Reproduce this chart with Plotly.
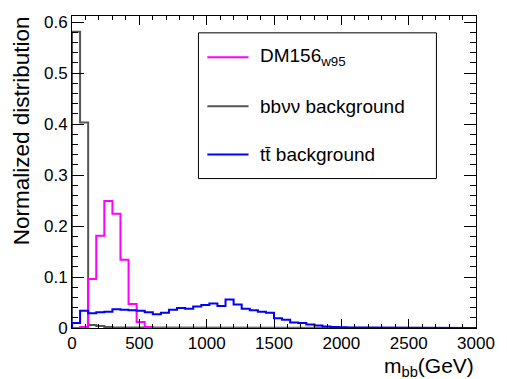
import numpy as np
import plotly.graph_objects as go

# m_bb histograms: 50 bins of 60 GeV between 0 and 3000 GeV
bin_edges = np.arange(0, 3001, 60)

dm156_w95 = [
    0.0, 0.002, 0.096, 0.181, 0.249, 0.224, 0.134, 0.047, 0.012, 0.002,
    0.0, 0.0, 0.0, 0.0, 0.0, 0.0, 0.0, 0.0, 0.0, 0.0,
    0.0, 0.0, 0.0, 0.0, 0.0, 0.0, 0.0, 0.0, 0.0, 0.0,
    0.0, 0.0, 0.0, 0.0, 0.0, 0.0, 0.0, 0.0, 0.0, 0.0,
    0.0, 0.0, 0.0, 0.0, 0.0, 0.0, 0.0, 0.0, 0.0, 0.0,
]

bbvv_bkg = [
    0.581, 0.403, 0.006, 0.004, 0.002, 0.001, 0.001, 0.0005, 0.0, 0.0,
    0.0, 0.0, 0.0, 0.0, 0.0, 0.0, 0.0, 0.0, 0.0, 0.0,
    0.0, 0.0, 0.0, 0.0, 0.0, 0.0, 0.0, 0.0, 0.0, 0.0,
    0.0, 0.0, 0.0, 0.0, 0.0, 0.0, 0.0, 0.0, 0.0, 0.0,
    0.0, 0.0, 0.0, 0.0, 0.0, 0.0, 0.0, 0.0, 0.0, 0.0,
]

ttbar_bkg = [
    0.0098, 0.034, 0.029, 0.031, 0.032, 0.037, 0.036, 0.035, 0.034, 0.031,
    0.027, 0.030, 0.036, 0.039, 0.038, 0.042, 0.045, 0.048, 0.043, 0.056,
    0.046, 0.038, 0.035, 0.032, 0.030, 0.019, 0.016, 0.011, 0.010, 0.007,
    0.005, 0.003, 0.002, 0.0015, 0.001, 0.001, 0.0008, 0.0006, 0.0005, 0.0004,
    0.0003, 0.0003, 0.0002, 0.0002, 0.0001, 0.0001, 0.0001, 0.0, 0.0, 0.0,
]

legend_labels = ["DM156<sub>w95</sub>", "bb\u03bd\u03bd background", "tt\u0304 background"]
colors = ["#ff00ff", "#555555", "#0000ff"]

x_ticks = [0, 500, 1000, 1500, 2000, 2500, 3000]
y_ticks = [0, 0.1, 0.2, 0.3, 0.4, 0.5, 0.6]

FONT = "Liberation Sans, Arial, sans-serif"


def step_outline(edges, values):
    """Histogram outline: up from zero at the first edge, across every bin, down at the last edge."""
    xs, ys = [edges[0]], [0.0]
    for i, v in enumerate(values):
        xs += [edges[i], edges[i + 1]]
        ys += [v, v]
    xs.append(edges[-1])
    ys.append(0.0)
    return xs, ys


fig = go.Figure()
for vals, col in [(bbvv_bkg, colors[1]), (dm156_w95, colors[0]), (ttbar_bkg, colors[2])]:
    xs, ys = step_outline(bin_edges, vals)
    fig.add_trace(go.Scatter(x=xs, y=ys, mode="lines",
                             line=dict(color=col, width=2), showlegend=False,
                             hoverinfo="skip"))

# boxed legend drawn in paper coordinates
box = dict(x0=0.313, x1=0.902, y0=0.479, y1=0.946)
fig.add_shape(type="rect", xref="paper", yref="paper", **box,
              line=dict(color="black", width=1), fillcolor="white", layer="above")
entry_y = [0.868, 0.711, 0.556]
for lab, col, yy in zip(legend_labels, colors, entry_y):
    fig.add_shape(type="line", xref="paper", yref="paper", x0=0.335, x1=0.437,
                  y0=yy, y1=yy, line=dict(color=col, width=2), layer="above")
    fig.add_annotation(xref="paper", yref="paper", x=0.460, y=yy, text=lab,
                       showarrow=False, xanchor="left", yanchor="middle",
                       font=dict(family=FONT, size=19, color="black"))

# axis titles
fig.add_annotation(xref="paper", yref="paper", x=1.0, y=-0.126,
                   text="m<sub>bb</sub>(GeV)", showarrow=False,
                   xanchor="right", yanchor="middle",
                   font=dict(family=FONT, size=21, color="black"))
fig.add_annotation(xref="paper", yref="paper", x=-0.126, y=0.631,
                   text="Normalized distribution", showarrow=False, textangle=-90,
                   xanchor="center", yanchor="middle",
                   font=dict(family=FONT, size=22.5, color="black"))

fig.update_xaxes(range=[0, 3000], tickvals=x_ticks, ticktext=[str(v) for v in x_ticks],
                 ticks="inside", ticklen=9, tickwidth=1, tickcolor="black",
                 minor=dict(ticks="inside", ticklen=4, dtick=100, tickcolor="black", tickwidth=1),
                 showline=True, linecolor="black", linewidth=1, mirror="ticks",
                 showgrid=False, zeroline=False,
                 tickfont=dict(family=FONT, size=17, color="black"))
fig.update_yaxes(range=[0, 0.612], tickvals=y_ticks,
                 ticktext=["0", "0.1", "0.2", "0.3", "0.4", "0.5", "0.6"],
                 ticks="inside", ticklen=12, tickwidth=1, tickcolor="black",
                 minor=dict(ticks="inside", ticklen=6, dtick=0.02, tickcolor="black", tickwidth=1),
                 showline=True, linecolor="black", linewidth=1, mirror="ticks",
                 showgrid=False, zeroline=False,
                 tickfont=dict(family=FONT, size=17, color="black"))

fig.update_layout(width=507, height=379,
                  margin=dict(l=72, r=20, t=16, b=51),
                  paper_bgcolor="white", plot_bgcolor="white",
                  showlegend=False)

fig.write_html("out.html")
